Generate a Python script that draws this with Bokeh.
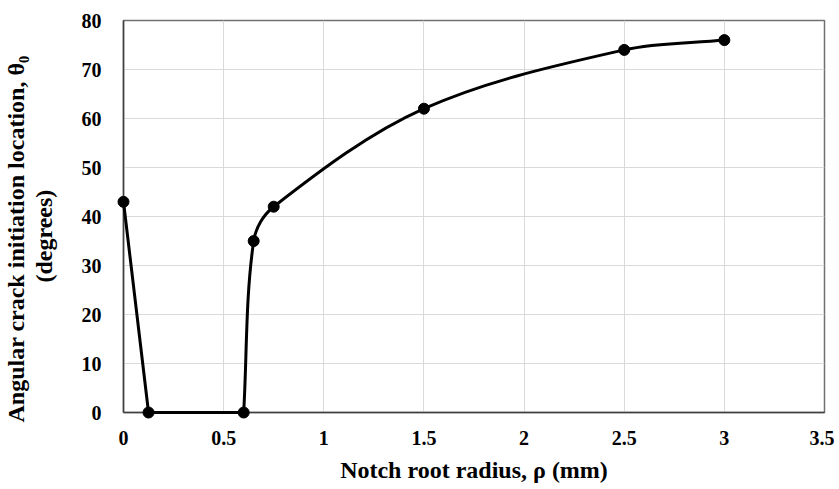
import numpy as np
from bokeh.plotting import figure
from bokeh.models import Range1d, FixedTicker, Title
from bokeh.embed import file_html
from bokeh.resources import INLINE

# data
radius = [0.0, 0.125, 0.6, 0.65, 0.75, 1.5, 2.5, 3.0]
theta = [43, 0, 0, 35, 42, 62, 74, 76]
x_ticks = [0, 0.5, 1, 1.5, 2, 2.5, 3, 3.5]
y_ticks = [0, 10, 20, 30, 40, 50, 60, 70, 80]

FONT = "Liberation Serif"
FW, FH = 701, 392
XMAX, YMAX = 3.5, 80

p = figure(width=834, height=487, output_backend="svg", toolbar_location=None,
           x_range=Range1d(0, XMAX), y_range=Range1d(0, YMAX),
           frame_width=FW, frame_height=FH,
           min_border_left=123, min_border_top=20, min_border_right=10, min_border_bottom=75)
p.background_fill_color = "white"
p.border_fill_color = "white"
p.outline_line_color = "#707070"
p.outline_line_width = 1.5

p.xaxis.ticker = FixedTicker(ticks=x_ticks)
p.yaxis.ticker = FixedTicker(ticks=y_ticks)
p.xaxis.major_label_overrides = {t: ("%g" % t) for t in x_ticks}
for ax in (p.xaxis, p.yaxis):
    ax.major_tick_line_color = None
    ax.minor_tick_line_color = None
    ax.axis_line_color = "#404040"
    ax.axis_line_width = 1.5
    ax.major_label_text_font = FONT
    ax.major_label_text_font_style = "bold"
    ax.major_label_text_font_size = "20px"
    ax.major_label_text_color = "black"
    ax.axis_label_text_font = FONT
    ax.axis_label_text_font_style = "bold"
    ax.axis_label_text_font_size = "24px"
    ax.axis_label_text_color = "black"
p.xaxis.major_label_standoff = 12
p.yaxis.major_label_standoff = 16
p.xaxis.axis_label = "Notch root radius, ρ (mm)"
p.xaxis.axis_label_standoff = 9
# invisible spacer label on the y axis, to push the titles outward
p.yaxis.axis_label = " "
p.yaxis.axis_label_text_font_size = "1px"
p.yaxis.axis_label_standoff = 18

# y-axis title as two left-side titles
t2 = Title(text="(degrees)", align="left", offset=130, standoff=0,
           text_font=FONT, text_font_style="bold", text_font_size="24px",
           text_color="black")
t1 = Title(text="Angular crack initiation location, θ₀", align="left", offset=-10,
           standoff=0, text_font=FONT, text_font_style="bold",
           text_font_size="24px", text_color="black")
p.add_layout(t2, "left")
p.add_layout(t1, "left")

p.xgrid.grid_line_color = "#d9d9d9"
p.ygrid.grid_line_color = "#d9d9d9"
p.xgrid.grid_line_width = 1
p.ygrid.grid_line_width = 1

# straight part
r_line = p.line(radius[:3], theta[:3], line_color="black", line_width=3)

# smoothed part (Excel-like), control points from data
kx, ky = FW / XMAX, FH / YMAX
sx = radius[2:]
sy = theta[2:]
P = np.array([[a * kx, b * ky] for a, b in zip(sx, sy)])
n = len(P)
tang = []
for i in range(n):
    if i == 0:
        d = P[1] - P[0]
    elif i == n - 1:
        d = P[-1] - P[-2]
    else:
        d = P[i + 1] - P[i - 1]
    tang.append(d / np.linalg.norm(d))
x0, y0, x1, y1, cx0, cy0, cx1, cy1 = [], [], [], [], [], [], [], []
for i in range(n - 1):
    L = np.linalg.norm(P[i + 1] - P[i]) / 3.0
    c0 = P[i] + tang[i] * L
    c1 = P[i + 1] - tang[i + 1] * L
    x0.append(sx[i]); y0.append(sy[i]); x1.append(sx[i + 1]); y1.append(sy[i + 1])
    cx0.append(c0[0] / kx); cy0.append(c0[1] / ky)
    cx1.append(c1[0] / kx); cy1.append(c1[1] / ky)
r_bez = p.bezier(x0=x0, y0=y0, x1=x1, y1=y1, cx0=cx0, cy0=cy0, cx1=cx1, cy1=cy1,
                 line_color="black", line_width=3)

r_pts = p.scatter(radius, theta, size=11, marker="circle", fill_color="black", line_color="black")

for r in (r_line, r_bez, r_pts):
    if "clip" in r.properties():
        r.clip = False
    r.level = "overlay"

open("out.html", "w").write(file_html(p, INLINE))
